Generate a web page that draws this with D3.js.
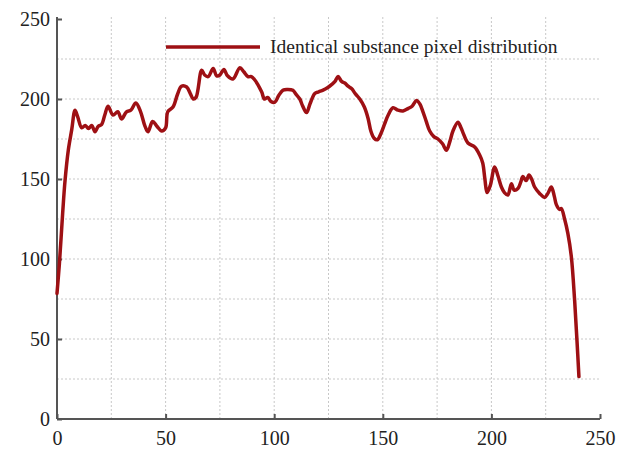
<!DOCTYPE html>
<html>
<head>
<meta charset="utf-8">
<script src="https://cdn.jsdelivr.net/npm/d3@7"></script>
<style>
  html, body { margin: 0; padding: 0; background: #fff; }
  svg { display: block; }
  text { font-family: "Liberation Serif", "Times New Roman", serif; fill: #222; }
</style>
</head>
<body>
<svg id="chart" width="618" height="454"></svg>
<script>
// Pixel position along the scan line and its intensity
const positions = [
  0, 1.1, 2.6, 3.7, 5.2, 6.8, 8.3, 9.5, 11.4, 13, 14.5, 16, 17.5, 19, 20.5, 22, 23.5, 25.8, 28, 29.7,
  32, 34, 36.3, 38.5, 40.5, 41.9, 44, 46, 48.2, 50, 51, 53.4, 55.5, 57.3, 59.7, 61.5, 62.7, 64, 66.6, 68,
  69.6, 71.9, 73.5, 75, 76.8, 78.5, 81, 84.2, 86, 87.9, 89.5, 91, 94.2, 95.5, 97, 98.5, 100.3, 102, 104, 106,
  108.6, 110, 111.8, 113, 114.9, 116.5, 118.7, 120.5, 122.5, 124.5, 126.4, 128, 129.4, 131, 132.5, 134, 135.6, 137.5, 139.4, 141.5,
  143.2, 144.5, 146, 147.5, 149, 151, 152.5, 154.7, 157, 159.3, 161.6, 163.5, 165.5, 167, 168.5, 170, 171.6, 173.5, 175.4, 177.5,
  179.3, 181, 182.3, 184.6, 186, 186.9, 189.2, 192.3, 194.6, 196, 197, 198, 199.5, 201.5, 203, 204.6, 206, 207.6, 209.2, 210.5,
  212.2, 213.5, 214.5, 216, 217.3, 218.5, 219.9, 222.2, 224.5, 226, 227.6, 229, 229.9, 231.4, 232.2, 233.7, 235.2, 236.8, 238.3, 239.4,
  240.3
];
const intensity = [
  78.5, 97, 128.5, 149, 168, 181, 193, 189, 182, 183.5, 181.5, 183.5, 179.5, 183, 184, 190, 195.5, 190, 192, 187.5,
  192, 193, 197.5, 192, 183, 179.5, 186, 183, 180, 182, 192, 195, 203, 208, 207.5, 203, 200, 201, 218, 215,
  214, 219, 214.5, 215, 218.5, 214.5, 212.5, 219.5, 217, 214, 214, 212, 204.5, 200, 201, 198.5, 198, 202, 205.5, 206,
  205.5, 203, 200, 196, 191.5, 197, 203.5, 204.5, 205.5, 207, 209, 211, 214, 211, 210, 208, 206.5, 203, 200, 195,
  188, 180, 175.5, 174.5, 178, 185, 190, 194.5, 193, 192.5, 194, 195.5, 199, 197, 192, 186, 180, 176.5, 175, 172,
  168, 174, 180, 185.5, 182, 179, 172.5, 170, 165, 160, 150, 141.5, 146, 157.5, 152, 145, 141.5, 140, 147, 143,
  144, 148, 151.5, 149, 152.5, 150, 145, 141, 138.5, 141, 145, 139, 134, 131, 131.5, 125, 116, 101.5, 74.5, 49,
  26.5
];
const xTicks = [0, 50, 100, 150, 200, 250];
const yTicks = [0, 50, 100, 150, 200, 250];
const gridStep = [25, 50, 75, 100, 125, 150, 175, 200, 225];
const seriesName = "Identical substance pixel distribution";

const svg = d3.select("#chart");
const margin = { left: 57, right: 18, top: 19, bottom: 35 };
const W = 618, H = 454;
const lineColor = "#9e1014";

const x = d3.scaleLinear().domain([0, 250]).range([margin.left, W - margin.right]);
const y = d3.scaleLinear().domain([0, 250]).range([H - margin.bottom, margin.top]);

// dashed grid
const grid = svg.append("g");
grid.selectAll("line.v").data(gridStep).join("line")
  .attr("x1", d => x(d)).attr("x2", d => x(d))
  .attr("y1", y(0)).attr("y2", y(250) - 2)
  .attr("stroke", "#c8c8c8").attr("stroke-width", 1).attr("stroke-dasharray", "2,2");
grid.selectAll("line.h").data(gridStep).join("line")
  .attr("y1", d => y(d)).attr("y2", d => y(d))
  .attr("x1", x(0)).attr("x2", x(250))
  .attr("stroke", "#c8c8c8").attr("stroke-width", 1).attr("stroke-dasharray", "2,2");

// axes with inward ticks
const xAxis = d3.axisBottom(x).tickValues(xTicks).tickSize(-5).tickPadding(12).tickFormat(d3.format("d"));
const yAxis = d3.axisLeft(y).tickValues(yTicks).tickSize(-5).tickPadding(7).tickFormat(d3.format("d"));

const gx = svg.append("g").attr("transform", `translate(0,${y(0)})`).call(xAxis);
const gy = svg.append("g").attr("transform", `translate(${x(0)},0)`).call(yAxis);
[gx, gy].forEach(g => {
  g.select(".domain").attr("stroke", "#555").attr("stroke-width", 2);
  g.selectAll(".tick line").attr("stroke", "#555").attr("stroke-width", 2);
  g.selectAll(".tick text")
    .attr("font-family", "Liberation Serif, Times New Roman, serif")
    .attr("font-size", 20).attr("fill", "#222");
});
gx.select(".domain").attr("d", `M${x(0)},0H${x(250)}`);
gy.select(".domain").attr("d", `M0,${y(0)}V${y(250) - 2}`);

// intensity curve
const pts = positions.map((p, i) => [p, intensity[i]]);
const line = d3.line().x(d => x(d[0])).y(d => y(d[1])).curve(d3.curveCatmullRom.alpha(0.5));
svg.append("path").datum(pts)
  .attr("d", line)
  .attr("fill", "none")
  .attr("stroke", lineColor)
  .attr("stroke-width", 3.5)
  .attr("stroke-linejoin", "round")
  .attr("stroke-linecap", "round");

// legend
const lg = svg.append("g");
lg.append("line")
  .attr("x1", 166).attr("x2", 260).attr("y1", 47).attr("y2", 47)
  .attr("stroke", lineColor).attr("stroke-width", 3.5);
lg.append("text")
  .attr("x", 270).attr("y", 53)
  .attr("font-size", 19.5)
  .text(seriesName);
</script>
</body>
</html>
